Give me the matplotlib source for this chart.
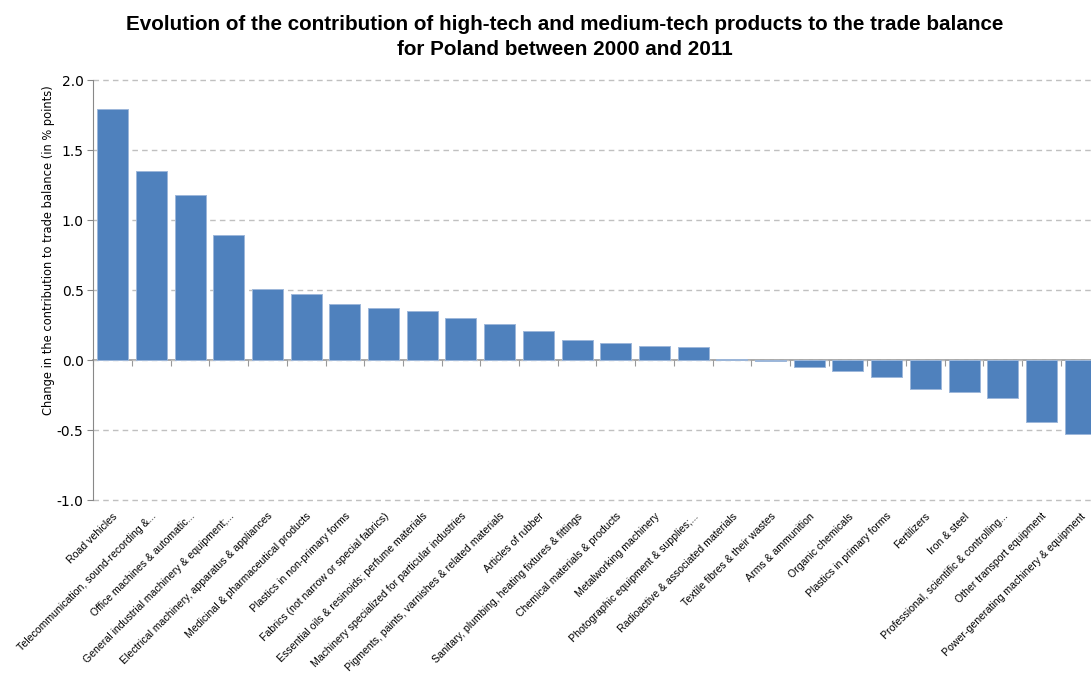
import matplotlib
matplotlib.use("Agg")
import matplotlib.pyplot as plt
import numpy as np

categories = [
    "Road vehicles",
    "Telecommunication, sound-recording &...",
    "Office machines & automatic...",
    "General industrial machinery & equipment;...",
    "Electrical machinery, apparatus & appliances",
    "Medicinal & pharmaceutical products",
    "Plastics in non-primary forms",
    "Fabrics (not narrow or special fabrics)",
    "Essential oils & resinoids; perfume materials",
    "Machinery specialized for particular industries",
    "Pigments, paints, varnishes & related materials",
    "Articles of rubber",
    "Sanitary, plumbing, heating fixtures & fittings",
    "Chemical materials & products",
    "Metalworking machinery",
    "Photographic equipment & supplies;...",
    "Radioactive & associated materials",
    "Textile fibres & their wastes",
    "Arms & ammunition",
    "Organic chemicals",
    "Plastics in primary forms",
    "Fertilizers",
    "Iron & steel",
    "Professional, scientific & controlling...",
    "Other transport equipment",
    "Power-generating machinery & equipment",
]
values = [1.79, 1.35, 1.18, 0.89, 0.51, 0.47, 0.40, 0.37, 0.35, 0.30, 0.26,
          0.21, 0.14, 0.12, 0.10, 0.09, 0.01, -0.005, -0.05, -0.08, -0.12,
          -0.21, -0.23, -0.27, -0.44, -0.53]
yticks = [-1.0, -0.5, 0.0, 0.5, 1.0, 1.5, 2.0]

title_lines = ["Evolution of the contribution of high-tech and medium-tech products to the trade balance",
               "for Poland between 2000 and 2011"]
ylabel = "Change in the contribution to trade balance (in % points)"

W, H = 1091, 674
fig = plt.figure(figsize=(W / 100, H / 100), dpi=100)
left_px, right_px, top_px, bot_px = 93.3, 1099.5, 80, 500
ax = fig.add_axes([left_px / W, 1 - bot_px / H, (right_px - left_px) / W, (bot_px - top_px) / H])

x = np.arange(len(categories))
ax.bar(x, values, width=0.8, color="#4F81BD", edgecolor="#9DB7DA", linewidth=0.7, zorder=3)

ax.set_xlim(-0.5, len(categories) - 0.5)
ax.set_ylim(-1.0, 2.0)
ax.set_yticks(yticks)
ax.set_yticklabels([f"{v:.1f}" for v in yticks], fontsize=10, family="DejaVu Sans")
ax.tick_params(axis="y", direction="out", length=4, color="#888888", pad=3)

ax.set_xticks(x)
ax.set_xticklabels(categories, rotation=45, ha="right", rotation_mode="anchor",
                   fontsize=7.6, family="Liberation Sans")
ax.tick_params(axis="x", length=0, pad=8)

for s in ["top", "right", "bottom"]:
    ax.spines[s].set_visible(False)
ax.spines["left"].set_color("#888888")

ax.yaxis.grid(True, linestyle=(0, (4, 3)), color="#C0C0C0", linewidth=1.0, zorder=0)
ax.set_axisbelow(True)
for gl in ax.yaxis.get_gridlines():
    gl.set_clip_on(False)

# zero line axis with boundary ticks
zero_frac = (0 - (-1.0)) / 3.0
sec = ax.secondary_xaxis(zero_frac)
sec.set_xticks(np.arange(len(categories) + 1) - 0.5)
sec.set_xticklabels([])
sec.tick_params(direction="out", length=4, color="#999999")
sec.spines["bottom"].set_color("#999999")
sec.spines["bottom"].set_linewidth(1.2)

ax.set_ylabel(ylabel, fontsize=8.3, family="DejaVu Sans")
ax.yaxis.set_label_coords(-0.038, 0.595)

for line, base_px in zip(title_lines, [30, 55]):
    fig.text(0.518, 1 - base_px / H, line, ha="center", va="baseline", fontsize=14.85,
             fontweight="bold", family="Liberation Sans")

fig.savefig("out.png", dpi=100)
